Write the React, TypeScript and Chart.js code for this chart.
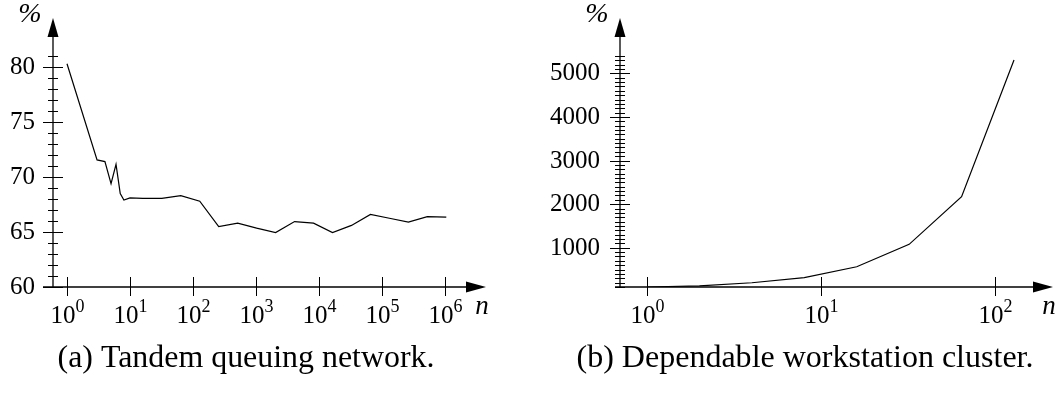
import React, { useEffect, useRef } from "react";
import { Chart, registerables } from "chart.js";

Chart.register(...registerables);

// ---- Data: (a) Tandem queuing network ----
const nA = [1, 3, 4, 5, 6, 7, 8, 10, 16, 32, 64, 128, 256, 512, 1024, 2048, 4096, 8192, 16384, 32768, 65536, 131072, 262144, 524288, 1048576];
const pctA = [80.3, 71.55, 71.4, 69.4, 71.15, 68.5, 67.9, 68.1, 68.05, 68.05, 68.3, 67.8, 65.5, 65.8, 65.35, 64.95, 65.95, 65.8, 64.95, 65.6, 66.6, 66.25, 65.9, 66.4, 66.35];
const yMajorA = [60, 65, 70, 75, 80];
const xExpA = [0, 1, 2, 3, 4, 5, 6];

// ---- Data: (b) Dependable workstation cluster ----
const nB = [1, 2, 4, 8, 16, 32, 64, 128];
const pctB = [100, 128, 197, 317, 564, 1078, 2170, 5305];
const yMajorB = [1000, 2000, 3000, 4000, 5000];
const xExpB = [0, 1, 2];

const captionA = "(a) Tandem queuing network.";
const captionB = "(b) Dependable workstation cluster.";

const SERIF = "'Liberation Serif', 'Times New Roman', serif";

type AxisCfg = {
  yMajor: number[];
  minorStep: number;
  minorStart: number;
  minorEnd: number;
  xExp: number[];
  xAxisExt: number;
  caption: string;
  captionCenter: number;
  captionWidth: number;
  labelGap: number;
};

function makeAxesPlugin(cfg: AxisCfg) {
  return {
    id: "customAxes",
    afterDraw(chart: any) {
      const ctx: CanvasRenderingContext2D = chart.ctx;
      const { left, right, top, bottom } = chart.chartArea;
      const xs = chart.scales.x;
      const ys = chart.scales.y;
      ctx.save();
      ctx.strokeStyle = "#000";
      ctx.fillStyle = "#000";
      ctx.lineCap = "butt";

      const line = (x1: number, y1: number, x2: number, y2: number, w: number) => {
        ctx.lineWidth = w;
        ctx.beginPath();
        ctx.moveTo(x1, y1);
        ctx.lineTo(x2, y2);
        ctx.stroke();
      };

      // y axis + arrow
      line(left, bottom, left, top + 17, 1.3);
      ctx.beginPath();
      ctx.moveTo(left, top);
      ctx.lineTo(left - 5.5, top + 19);
      ctx.lineTo(left + 5.5, top + 19);
      ctx.closePath();
      ctx.fill();

      // x axis + arrow
      line(left - cfg.xAxisExt, bottom, right - 18, bottom, 1.3);
      ctx.beginPath();
      ctx.moveTo(right, bottom);
      ctx.lineTo(right - 20, bottom - 5.5);
      ctx.lineTo(right - 20, bottom + 5.5);
      ctx.closePath();
      ctx.fill();

      // y minor ticks
      for (let v = cfg.minorStart; v <= cfg.minorEnd + 1e-9; v += cfg.minorStep) {
        if (cfg.yMajor.some((m) => Math.abs(m - v) < 1e-9)) continue;
        const py = Math.round(ys.getPixelForValue(v)) + 0.5;
        line(left - 5, py, left + 5, py, 1);
      }
      // y major ticks + labels
      ctx.font = `25px ${SERIF}`;
      ctx.textAlign = "right";
      ctx.textBaseline = "middle";
      for (const v of cfg.yMajor) {
        const py = Math.round(ys.getPixelForValue(v)) + 0.5;
        line(left - 10, py, left + 10, py, 1);
        ctx.fillText(String(v), left - cfg.labelGap, py);
      }

      // x ticks + labels
      ctx.textAlign = "left";
      ctx.textBaseline = "alphabetic";
      for (const e of cfg.xExp) {
        const px = Math.round(xs.getPixelForValue(Math.pow(10, e))) + 0.5;
        line(px, bottom - 10, px, bottom + 9, 1);
        ctx.font = `25px ${SERIF}`;
        const wb = ctx.measureText("10").width;
        ctx.font = `18px ${SERIF}`;
        const ws = ctx.measureText(String(e)).width;
        const x0 = px - (wb + ws) / 2;
        ctx.font = `25px ${SERIF}`;
        ctx.fillText("10", x0, bottom + 36);
        ctx.font = `18px ${SERIF}`;
        ctx.fillText(String(e), x0 + wb, bottom + 25);
      }

      // axis titles
      ctx.textAlign = "center";
      ctx.textBaseline = "middle";
      ctx.font = `italic 28px ${SERIF}`;
      ctx.fillText("%", left - 23, 15);
      ctx.font = `italic 27px ${SERIF}`;
      ctx.fillText("n", right - 4, bottom + 20);

      // caption
      ctx.font = `30px ${SERIF}`;
      const w30 = ctx.measureText(cfg.caption).width;
      const size = (30 * cfg.captionWidth) / w30;
      ctx.font = `${size.toFixed(2)}px ${SERIF}`;
      ctx.textAlign = "center";
      ctx.textBaseline = "alphabetic";
      ctx.fillText(cfg.caption, cfg.captionCenter, 367);

      ctx.restore();
    },
  };
}

function makeChart(
  canvas: HTMLCanvasElement,
  xs: number[],
  ys: number[],
  padding: { left: number; right: number; top: number; bottom: number },
  xMin: number,
  xMax: number,
  yMin: number,
  yMax: number,
  cfg: AxisCfg
) {
  return new Chart(canvas, {
    type: "line",
    data: {
      datasets: [
        {
          data: xs.map((x, i) => ({ x, y: ys[i] })),
          borderColor: "#000",
          borderWidth: 1.2,
          pointRadius: 0,
          tension: 0,
          fill: false,
        },
      ],
    },
    options: {
      animation: false,
      responsive: false,
      maintainAspectRatio: false,
      devicePixelRatio: 1,
      layout: { padding },
      plugins: { legend: { display: false }, tooltip: { enabled: false } },
      scales: {
        x: { type: "logarithmic", min: xMin, max: xMax, display: false },
        y: { type: "linear", min: yMin, max: yMax, display: false },
      },
    },
    plugins: [makeAxesPlugin(cfg)],
  } as any);
}

export default function App() {
  const refA = useRef<HTMLCanvasElement>(null);
  const refB = useRef<HTMLCanvasElement>(null);

  useEffect(() => {
    const a = makeChart(
      refA.current!,
      nA,
      pctA,
      { left: 53, right: 44, top: 18, bottom: 108 },
      Math.pow(10, -14 / 63),
      Math.pow(10, 419 / 63),
      60,
      60 + 269 / 11,
      {
        yMajor: yMajorA,
        minorStep: 1,
        minorStart: 61,
        minorEnd: 81,
        xExp: xExpA,
        xAxisExt: 10,
        caption: captionA,
        captionCenter: 246,
        captionWidth: 377,
        labelGap: 18,
      }
    );
    const b = makeChart(
      refB.current!,
      nB,
      pctB,
      { left: 90, right: 7, top: 18, bottom: 108 },
      Math.pow(10, -26.7 / 174.3),
      Math.pow(10, 406.3 / 174.3),
      100,
      100 + (269 / 43.6) * 1000,
      {
        yMajor: yMajorB,
        minorStep: 100,
        minorStart: 100,
        minorEnd: 5400,
        xExp: xExpB,
        xAxisExt: 5,
        caption: captionB,
        captionCenter: 275,
        captionWidth: 457,
        labelGap: 20,
      }
    );
    return () => {
      a.destroy();
      b.destroy();
    };
  }, []);

  return (
    <div style={{ position: "fixed", left: 0, top: 0, width: 1060, height: 395, background: "#fff" }}>
      <canvas ref={refA} width={530} height={395} style={{ position: "absolute", left: 0, top: 0, width: 530, height: 395 }} />
      <canvas ref={refB} width={530} height={395} style={{ position: "absolute", left: 530, top: 0, width: 530, height: 395 }} />
    </div>
  );
}
